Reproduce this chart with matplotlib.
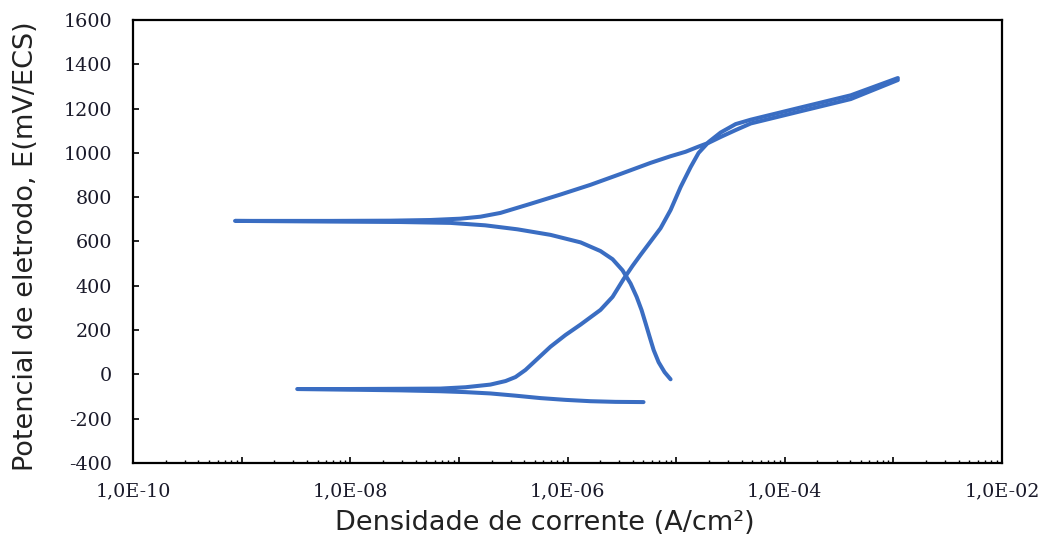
import math
import matplotlib
matplotlib.use("Agg")
import matplotlib.pyplot as plt
from matplotlib.ticker import LogLocator, FuncFormatter, MultipleLocator, NullFormatter

# Forward scan (cathodic start -> Ecorr -> anodic -> vertex)
i_forward = [5.01e-6, 2.77e-6, 1.63e-6, 9.59e-7, 5.64e-7, 3.32e-7, 1.95e-7,
             1.15e-7, 6.75e-8, 2.89e-8, 1.0e-8, 3.25e-9,
             1.0e-8, 2.89e-8, 6.75e-8, 1.15e-7, 1.95e-7, 2.69e-7, 3.32e-7,
             4.10e-7, 5.07e-7, 6.97e-7, 9.59e-7, 1.32e-6, 2.01e-6, 2.60e-6,
             3.28e-6, 3.97e-6, 4.71e-6, 5.82e-6, 7.19e-6, 8.89e-6, 1.10e-5,
             1.36e-5, 1.61e-5, 2.00e-5, 2.57e-5, 3.53e-5, 4.87e-5, 1.40e-4,
             4.05e-4, 1.10e-3]
E_forward = [-125, -124, -121, -115, -107, -96, -86,
             -80, -76, -72, -69, -66,
             -66, -65, -64, -58, -46, -30, -12,
             20, 62, 125, 178, 225, 291, 350,
             430, 490, 540, 600, 660, 742, 846,
             936, 1000, 1050, 1092, 1130, 1150, 1205,
             1260, 1338]

# Reverse scan (vertex -> second Ecorr -> cathodic)
i_reverse = [1.10e-3, 4.05e-4, 1.40e-4, 4.87e-5, 3.53e-5, 2.57e-5, 2.00e-5,
             1.58e-5, 1.22e-5, 8.89e-6, 5.82e-6, 3.08e-6, 1.63e-6, 8.61e-7,
             4.56e-7, 2.41e-7, 1.58e-7, 1.03e-7, 5.46e-8, 2.34e-8, 6.55e-9,
             8.7e-10,
             6.55e-9, 2.89e-8, 8.36e-8, 1.75e-7, 3.46e-7, 6.97e-7, 1.32e-6,
             2.01e-6, 2.60e-6, 3.21e-6, 3.81e-6, 4.33e-6, 4.81e-6, 5.24e-6,
             5.70e-6, 6.21e-6, 6.90e-6, 7.83e-6, 8.89e-6]
E_reverse = [1329, 1243, 1188, 1133, 1103, 1072, 1046,
             1027, 1005, 985, 955, 905, 856, 812,
             770, 729, 712, 703, 697, 694, 693,
             693,
             690, 688, 684, 673, 655, 630, 596,
             557, 520, 470, 410, 350, 290, 230,
             170, 110, 55, 10, -22]

x_label = "Densidade de corrente (A/cm²)"
y_label = "Potencial de eletrodo, E(mV/ECS)"

line_color = "#3A6DC2"

fig = plt.figure(figsize=(10.45, 5.42), dpi=100)
ax = fig.add_axes([133 / 1045, 1 - 463 / 542, (1002 - 133) / 1045, (463 - 20) / 542])

ax.plot(i_forward, E_forward, color=line_color, lw=2.9,
        solid_capstyle="round", solid_joinstyle="round")
ax.plot(i_reverse, E_reverse, color=line_color, lw=2.9,
        solid_capstyle="round", solid_joinstyle="round")

ax.set_xscale("log")
ax.set_xlim(1e-10, 1e-2)
ax.set_ylim(-400, 1600)

ax.yaxis.set_major_locator(MultipleLocator(200))
ax.xaxis.set_major_locator(LogLocator(base=10, numticks=20))
ax.xaxis.set_minor_locator(LogLocator(base=10, subs=range(2, 10), numticks=100))
ax.xaxis.set_minor_formatter(NullFormatter())


def fmt_x(v, pos):
    e = int(round(math.log10(v)))
    if e % 2 != 0:
        return ""
    return "1,0E-%02d" % abs(e)


ax.xaxis.set_major_formatter(FuncFormatter(fmt_x))
ax.yaxis.set_major_formatter(FuncFormatter(lambda v, p: "%d" % v))

for sp in ax.spines.values():
    sp.set_linewidth(1.6)
    sp.set_color("black")

ax.tick_params(axis="both", which="major", direction="in", length=4.5, width=1.2,
               labelsize=13.8, pad=14, colors="black", labelcolor="#1a1a2a")
ax.tick_params(axis="x", which="minor", direction="in", length=2.5, width=1.0)
ax.tick_params(axis="y", which="major", pad=15)

for lab in ax.get_xticklabels() + ax.get_yticklabels():
    lab.set_family("DejaVu Serif")

ax.set_xlabel(x_label, fontsize=19.5, family="DejaVu Sans", color="#222222")
ax.xaxis.set_label_coords(0.474, -0.105)
ax.set_ylabel(y_label, fontsize=19.5, family="DejaVu Sans", color="#222222")
ax.yaxis.set_label_coords(-0.108, 0.49)

fig.savefig("out.png", dpi=100)
